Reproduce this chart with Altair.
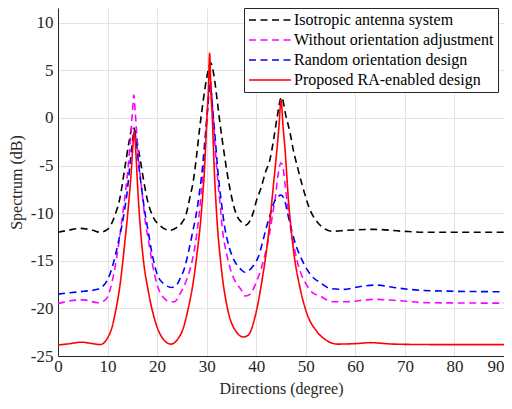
import altair as alt
import pandas as pd

series_names = [
    "Isotropic antenna system",
    "Without orientation adjustment",
    "Random orientation design",
    "Proposed RA-enabled design",
]
series_colors = ["#000000", "#ff00ff", "#0000ff", "#ff0000"]
series_dashes = [[7, 4.5], [7, 4.5], [7, 4.5], [1, 0]]

iso_x = [0, 2, 4.5, 7, 8.5, 10, 11.5, 12.5, 13.5, 14.3, 15.1, 15.9, 16.5, 17.2, 17.9,
         19.2, 20.6, 22.5, 24.0, 25.0, 25.8, 26.6, 27.4, 28.0, 28.65, 29.3, 30.0, 30.8,
         31.6, 32.2, 32.7, 33.5, 34.4, 35.9, 37.4, 37.9, 38.5, 39.3, 40.1, 41.0, 41.8,
         42.8, 43.5, 44.2, 45.1, 46.0, 46.8, 47.5, 48.2, 49.2, 50.9, 52.6, 53.7, 55.3,
         58.3, 63.7, 69.7, 74.4, 90]
iso_y = [-12.0, -11.8, -11.6, -11.8, -12.0, -11.7, -10.2, -8.4, -5.2, -2.6, -0.8, -2.4,
         -4.1, -6.3, -8.3, -10.4, -11.3, -11.8, -11.5, -11.0, -10.2, -8.4, -6.3, -3.8,
         -0.8, 1.8, 4.2, 5.8, 4.0, 1.5, -0.6, -3.6, -6.6, -10.0, -11.1, -11.25, -11.0,
         -10.1, -8.6, -7.3, -5.8, -4.3, -2.3, 0.0, 2.2, 0.2, -1.5, -3.4, -4.9, -6.9,
         -9.7, -11.1, -11.6, -11.9, -11.8, -11.7, -11.9, -12.0, -12.0]

woa_x = [0, 2.5, 5.2, 8.0, 9.0, 10.0, 11.0, 11.8, 12.5, 13.2, 13.9, 14.5, 15.0, 15.3,
         15.6, 16.0, 16.4, 17.0, 17.6, 18.3, 19.0, 20.0, 21.0, 22.7, 23.5, 24.7, 25.8,
         26.8, 27.5, 28.1, 28.7, 29.1, 29.7, 30.2, 30.7, 31.2, 31.7, 32.3, 32.7, 33.2,
         34.0, 34.8, 35.8, 36.9, 37.8, 38.8, 39.8, 40.7, 41.5, 42.2, 42.8, 43.4, 43.8,
         44.4, 45.0, 45.5, 45.8, 46.3, 46.8, 47.5, 48.2, 49.0, 49.9, 51.5, 52.9, 54.2,
         55.6, 58.3, 63.7, 69.1, 74.4, 90]
woa_y = [-19.5, -19.2, -19.1, -19.4, -19.3, -18.8, -17.0, -14.8, -12.3, -9.5, -6.5, -3.0,
         0.5, 2.4, 0.5, -2.5, -5.0, -8.0, -10.8, -13.0, -15.2, -17.5, -18.7, -19.3,
         -19.3, -18.4, -17.2, -15.6, -13.9, -11.8, -9.0, -6.9, -3.0, 1.0, 4.5, 1.0,
         -3.0, -6.9, -9.0, -11.8, -14.2, -15.9, -17.2, -18.0, -18.7, -18.5, -17.5,
         -16.3, -14.9, -13.4, -11.8, -9.8, -8.6, -6.0, -4.7, -5.5, -6.9, -9.0, -11.1,
         -13.2, -14.9, -16.3, -17.3, -18.4, -18.7, -19.1, -19.3, -19.3, -19.05, -19.2,
         -19.4, -19.45]

rnd_x = [0, 2.5, 5.2, 8.0, 9.0, 10.0, 11.2, 12.2, 13.2, 13.9, 14.5, 15.0, 15.4, 15.8,
         16.3, 16.9, 17.5, 18.0, 19.0, 20.0, 21.3, 23.0, 24.0, 24.7, 25.5, 26.4, 27.2,
         27.8, 28.5, 29.1, 29.7, 30.2, 30.7, 31.2, 31.7, 32.3, 33.0, 33.5, 34.5, 35.5,
         36.9, 37.7, 38.8, 39.7, 40.5, 41.3, 42.1, 42.8, 43.5, 44.3, 45.0, 45.7, 46.5,
         47.2, 47.9, 48.7, 49.5, 51.2, 52.9, 54.9, 57.6, 61.0, 64.0, 67.7, 73.1, 79.8, 90]
rnd_y = [-18.5, -18.35, -18.2, -18.0, -17.7, -17.0, -15.2, -13.0, -10.4, -8.0, -5.0,
         -2.5, -1.3, -2.5, -5.0, -7.5, -9.8, -11.3, -14.3, -16.4, -17.4, -17.8, -17.5,
         -16.8, -15.8, -13.9, -11.9, -10.4, -8.0, -5.5, -2.0, 1.0, 3.5, 1.0, -2.0, -5.8,
         -9.0, -11.0, -13.5, -14.9, -15.9, -16.2, -15.9, -15.3, -14.5, -13.0, -11.4,
         -10.2, -9.0, -8.3, -8.1, -8.6, -10.4, -11.9, -13.2, -14.3, -15.2, -16.6, -17.3,
         -17.9, -18.0, -17.7, -17.55, -17.8, -18.1, -18.2, -18.25]

pro_x = [0, 2.5, 4.7, 7.0, 8.5, 10.0, 11.0, 11.5, 12.5, 13.5, 14.2, 14.8, 15.1, 15.4,
         15.7, 16.0, 16.4, 17.1, 18.3, 19.7, 21.2, 22.8, 24.2, 25.2, 26.2, 27.3, 28.0,
         29.0, 29.6, 30.1, 30.35, 30.6, 30.85, 31.1, 31.5, 32.0, 32.9, 34.2, 35.9, 37.4,
         38.4, 39.8, 41.1, 42.5, 43.5, 44.2, 44.6, 45.0, 45.4, 45.8, 46.5, 47.5, 48.9,
         50.2, 52.2, 54.0, 56.3, 60.0, 63.0, 67.7, 75.0, 90]
pro_y = [-23.85, -23.7, -23.55, -23.7, -23.8, -23.1, -21.8, -20.6, -17.6, -13.0, -9.3,
         -5.5, -3.0, -1.4, -3.5, -6.5, -10.0, -14.3, -18.4, -21.5, -23.2, -23.75, -23.2,
         -22.2, -20.2, -17.2, -14.5, -9.5, -5.0, 0.5, 2.8, 6.8, 2.8, 0.5, -5.0, -10.0,
         -15.5, -20.0, -22.4, -23.0, -22.8, -20.8, -17.3, -12.1, -6.9, -3.2, -0.8, 1.9,
         -0.8, -3.2, -8.6, -13.8, -18.0, -20.5, -22.4, -23.3, -23.75, -23.7, -23.6,
         -23.75, -23.8, -23.8]

x_ticks = [0, 10, 20, 30, 40, 50, 60, 70, 80, 90]
y_ticks = [-25, -20, -15, -10, -5, 0, 5, 10]

rows = []
for name, xs, ys in zip(series_names,
                        [iso_x, woa_x, rnd_x, pro_x],
                        [iso_y, woa_y, rnd_y, pro_y]):
    for i, (xv, yv) in enumerate(zip(xs, ys)):
        rows.append({"series": name, "x": xv, "y": yv, "i": i})
df = pd.DataFrame(rows)

FONT = "Liberation Serif"
TXT = "#262626"

legend = alt.Legend(
    title=None, orient="none", legendX=186, legendY=0,
    symbolType="stroke", symbolSize=1764, symbolStrokeWidth=1.6,
    clipHeight=16, rowPadding=4, labelOffset=2, padding=4,
    labelFont=FONT, labelFontSize=16, labelColor="#000000", labelLimit=400,
    strokeColor="#262626", fillColor="#ffffff",
)

chart = alt.Chart(df).mark_line(strokeWidth=1.6, interpolate="monotone").encode(
    x=alt.X("x:Q",
            scale=alt.Scale(domain=[0, 90], nice=False, zero=False),
            axis=alt.Axis(values=x_ticks, title="Directions (degree)",
                          labelFont=FONT, labelFontSize=17, labelColor=TXT,
                          titleFont=FONT, titleFontSize=16,
                          labelPadding=2, titlePadding=6,
                          labelAlign={"condition": {"test": "datum.value === 90",
                                                    "value": "right"},
                                      "value": "center"})),
    y=alt.Y("y:Q",
            scale=alt.Scale(domain=[-25, 11.55], nice=False, zero=False),
            axis=alt.Axis(values=y_ticks, title="Spectrum (dB)",
                          labelFont=FONT, labelFontSize=17, labelColor=TXT,
                          titleFont=FONT, titleFontSize=16,
                          labelPadding=5, titlePadding=6,
                          labelExpr="datum.value + ''")),
    color=alt.Color("series:N",
                    scale=alt.Scale(domain=series_names, range=series_colors),
                    legend=legend),
    strokeDash=alt.StrokeDash("series:N",
                              scale=alt.Scale(domain=series_names, range=series_dashes),
                              legend=legend),
    order=alt.Order("i:Q"),
).properties(
    width=446, height=348,
    autosize=alt.AutoSizeParams(type="none"),
    padding={"left": 50, "top": 0, "right": 0, "bottom": 45},
).configure_view(
    stroke=None
).configure_axis(
    labelFont=FONT, labelFontSize=17, labelColor=TXT,
    titleFont=FONT, titleFontSize=16, titleColor=TXT, titleFontWeight="normal",
    domainColor=TXT, domainWidth=1,
    gridColor="#e3e3e3", gridWidth=1,
    ticks=False,
)

chart.save("out.html", embed_options={"renderer": "svg", "actions": False})
